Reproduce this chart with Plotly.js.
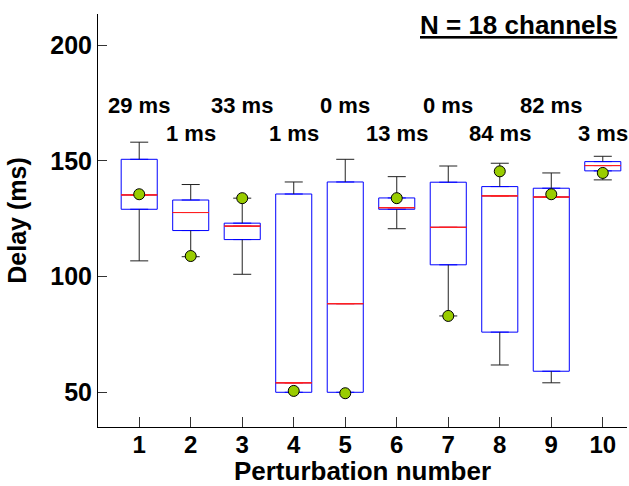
<!DOCTYPE html>
<html>
<head>
<meta charset="utf-8">
<script src="https://cdn.plot.ly/plotly-3.0.1.min.js"></script>
<style>html,body{margin:0;padding:0;background:#fff;}#chart{width:629px;height:486px;}</style>
</head>
<body>
<div id="chart"></div>
<script>
// ---- data ----
const perturbation = [1, 2, 3, 4, 5, 6, 7, 8, 9, 10];
const q1Values     = [129.1, 119.9, 116.0, 50.0, 50.0, 129.1, 105.1, 76.0, 59.1, 145.7];
const medianValues = [135.3, 127.7, 121.8, 54.1, 88.3, 129.8, 121.3, 134.9, 134.4, 148.0];
const q3Values     = [150.7, 133.1, 123.1, 135.7, 140.9, 134.0, 140.8, 138.9, 138.2, 149.7];
const lowerWhisker = [106.8, 108.6, 101.0, 50.0, 50.0, 120.7, 83.0, 61.8, 54.1, 141.8];
const upperWhisker = [158.1, 139.8, 133.9, 140.9, 150.7, 143.2, 147.8, 149.0, 144.8, 152.0];
const dotValues    = [135.6, 108.9, 133.9, 50.6, 49.6, 133.9, 83.0, 145.5, 135.6, 144.8];
const delayLabels  = ['29 ms', '1 ms', '33 ms', '1 ms', '0 ms', '13 ms', '0 ms', '84 ms', '82 ms', '3 ms'];
const xTickLabels  = ['1', '2', '3', '4', '5', '6', '7', '8', '9', '10'];
const yTickValues  = [50, 100, 150, 200];
const titleText    = 'N = 18 channels';

// ---- styling ----
const FONT = 'Liberation Sans, Arial, Helvetica, sans-serif';
const BOX_W = 0.7;
const CAP_HALF = 0.175;
const LABEL_ROW_Y = [174.0, 161.7];

// whisker segments built from the data arrays
const wx = [], wy = [];
perturbation.forEach((p, i) => {
  wx.push(p, p, null, p - CAP_HALF, p + CAP_HALF, null);
  wy.push(q3Values[i], upperWhisker[i], null, upperWhisker[i], upperWhisker[i], null);
  if (lowerWhisker[i] < q1Values[i]) {
    wx.push(p, p, null, p - CAP_HALF, p + CAP_HALF, null);
    wy.push(q1Values[i], lowerWhisker[i], null, lowerWhisker[i], lowerWhisker[i], null);
  }
});

const traces = [
  {
    type: 'box', x: perturbation,
    q1: q1Values, median: medianValues, q3: q3Values,
    lowerfence: q1Values, upperfence: q3Values,
    width: BOX_W, line: {color: '#0000ff', width: 1},
    fillcolor: 'rgba(0,0,0,0)', hoverinfo: 'skip', showlegend: false
  },
  {
    type: 'box', x: perturbation,
    q1: medianValues, median: medianValues, q3: medianValues,
    lowerfence: medianValues, upperfence: medianValues,
    width: BOX_W, line: {color: '#ff2020', width: 1},
    fillcolor: 'rgba(0,0,0,0)', hoverinfo: 'skip', showlegend: false
  },
  {
    type: 'scatter', mode: 'lines', x: wx, y: wy, connectgaps: false,
    line: {color: '#222', width: 1}, hoverinfo: 'skip', showlegend: false
  },
  {
    type: 'scatter', mode: 'markers', x: perturbation, y: dotValues,
    marker: {size: 11, color: '#99cc00', line: {color: '#000', width: 1}},
    showlegend: false
  }
];

const annotations = perturbation.map((p, i) => ({
  x: p, y: LABEL_ROW_Y[i % 2], xref: 'x', yref: 'y',
  text: delayLabels[i], showarrow: false, xanchor: 'center', yanchor: 'middle',
  font: {family: FONT, size: 22, weight: 'bold', color: '#000'}
}));
annotations.push({
  xref: 'paper', yref: 'paper', x: 1, y: 1, xanchor: 'right', yanchor: 'top',
  xshift: -8, yshift: 6,
  text: titleText, showarrow: false,
  font: {family: FONT, size: 26, weight: 'bold', color: '#000', lineposition: 'under'}
});

const layout = {
  width: 629, height: 486,
  margin: {l: 98, r: 2, t: 14, b: 59},
  paper_bgcolor: '#fff', plot_bgcolor: '#fff',
  showlegend: false,
  boxmode: 'overlay',
  font: {family: FONT, color: '#000'},
  xaxis: {
    range: [0.2, 10.47], tickvals: perturbation, ticktext: xTickLabels,
    ticks: 'inside', ticklen: 10, tickcolor: '#333', tickwidth: 1,
    ticklabelstandoff: -4,
    showline: true, linecolor: '#000', linewidth: 1,
    showgrid: false, zeroline: false,
    tickfont: {family: FONT, size: 24, weight: 'bold', color: '#000'},
    title: {text: 'Perturbation number', standoff: 0,
            font: {family: FONT, size: 26, weight: 'bold', color: '#000'}}
  },
  yaxis: {
    range: [35, 213.5], tickvals: yTickValues,
    ticks: 'inside', ticklen: 9, tickcolor: '#333', tickwidth: 1,
    showline: true, linecolor: '#000', linewidth: 1,
    showgrid: false, zeroline: false,
    tickfont: {family: FONT, size: 25, weight: 'bold', color: '#000'},
    title: {text: 'Delay (ms)', standoff: 16,
            font: {family: FONT, size: 25, weight: 'bold', color: '#000'}}
  },
  annotations: annotations
};

Plotly.newPlot('chart', traces, layout, {displayModeBar: false, staticPlot: true});
</script>
</body>
</html>
